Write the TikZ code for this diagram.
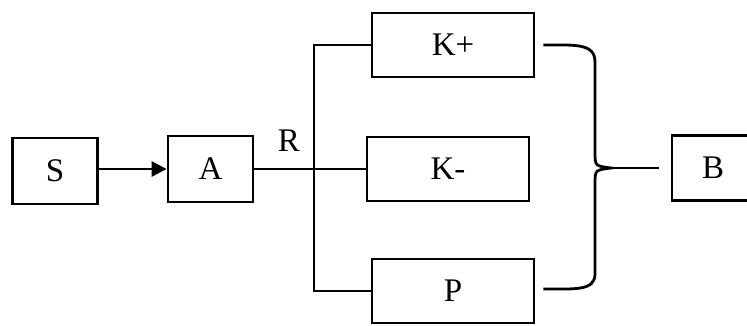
\documentclass[tikz,border=0pt]{standalone}
\usepackage{fontspec}
\setmainfont{Liberation Serif}
\usetikzlibrary{arrows.meta, positioning, calc}

\newcommand{\bigfont}{\fontsize{33}{40}\selectfont}

\begin{document}
\begin{tikzpicture}[
    x=1pt, y=-1pt,
    box/.style={rectangle, draw, line width=2.8pt, minimum width=162pt, minimum height=64pt, inner sep=0pt, font=\bigfont},
    small/.style={box, minimum width=85pt, minimum height=66pt},
    link/.style={line width=2.8pt},
    arrow/.style={-{Triangle[length=15pt, width=15pt]}, line width=2.8pt}
]
    \useasboundingbox (0,0) rectangle (747,325);

    \node[small] (s) at (55,171) {S};
    \node[small] (a) at (210.5,169) {A};
    \node[box] (kplus) at (453,45) {K+};
    \node[box] (kminus) at (448,169) {K-};
    \node[box] (p) at (453,291) {P};
    \node[small, minimum width=82pt, minimum height=65pt] (b) at (713,168) {B};
    \node[font=\bigfont] (r) at (289,141) {R};

    \coordinate (split) at (314,169);
    \coordinate (kend) at ($(kplus.east)+(8,0)$);
    \coordinate (pend) at ($(p.east)+(8,-2)$);
    \coordinate (tip) at (611,168);

    \draw[arrow] (s.east |- a) -- (a);
    \draw[link] (a.east) -- (kminus.west);
    \draw[link] (kplus.west) -| (split) |- (p.west);

    % brace joining K+, K- and P into B
    \draw[link] (kend) .. controls (575,45) and (595,43) .. (595,62)
        -- (595,152) .. controls (595,166) .. (tip)
        .. controls (595,170) .. (595,184)
        -- (595,274) .. controls (595,291) and (575,289) .. (pend);
    \draw[link] (tip) -- ($(b.west)+(-12,0)$);
\end{tikzpicture}
\end{document}
